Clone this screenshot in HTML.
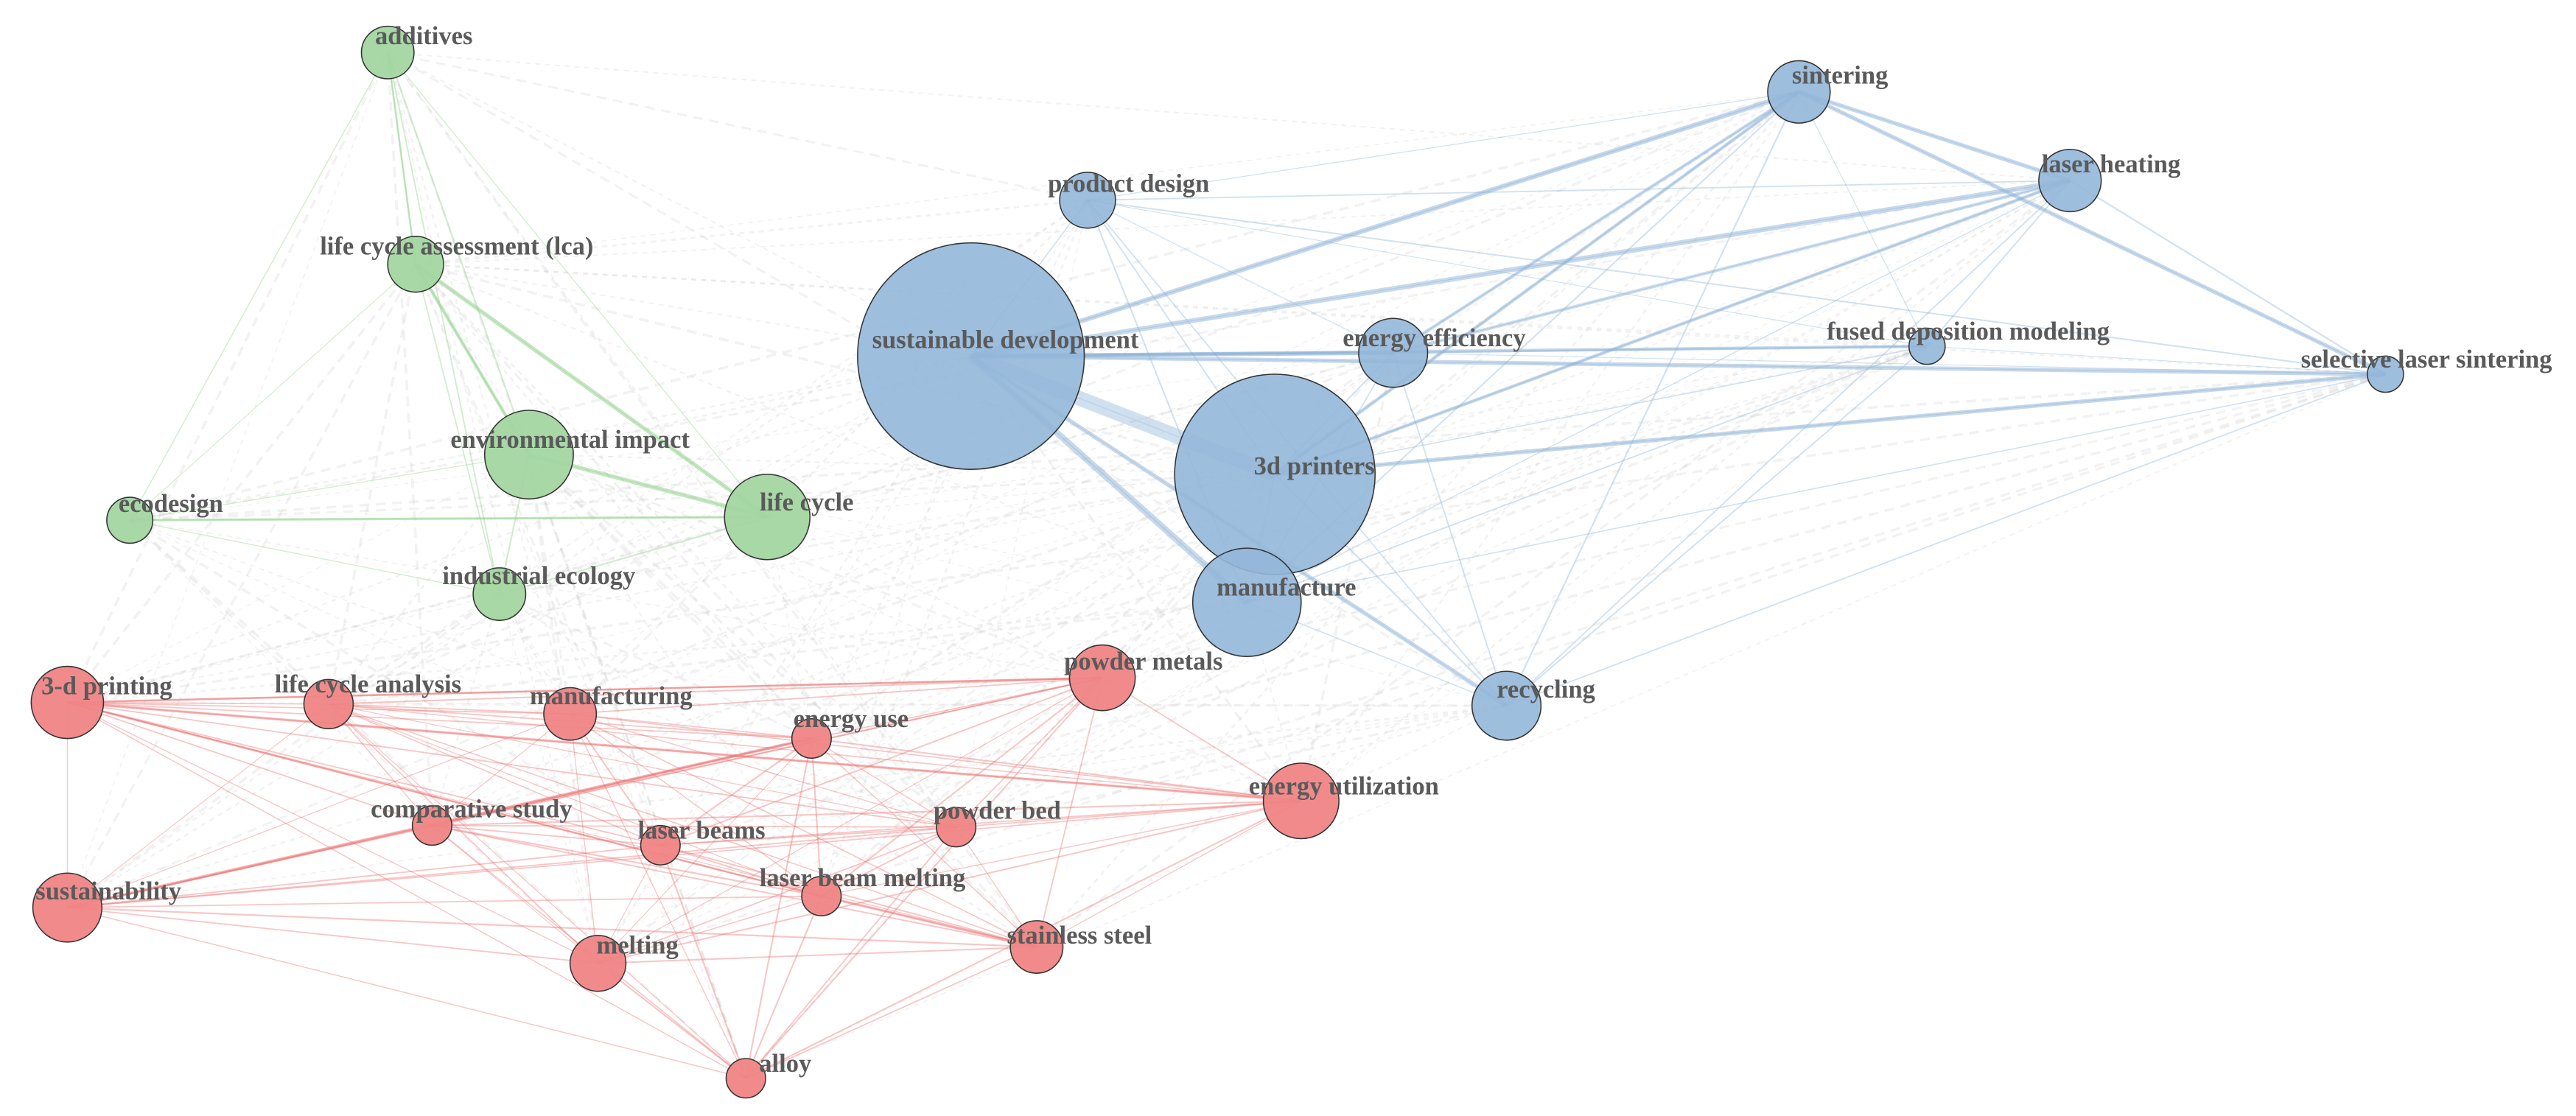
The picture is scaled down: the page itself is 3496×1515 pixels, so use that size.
<!DOCTYPE html>
<html><head><meta charset="utf-8"><style>
html,body{margin:0;padding:0;background:#fff;}
svg{display:block;}
text{font-family:"Liberation Serif",serif;font-weight:bold;font-size:15.5px;fill:#5a5a5a;text-anchor:middle;}
</style></head><body>
<svg id="g" width="3496" height="1515" viewBox="0 0 1568 680" preserveAspectRatio="none">
<g id="edges"></g>
<g id="nodes" stroke="#333" stroke-width="0.7"></g>
<g id="labels">
<text x="258" y="27">additives</text>
<text x="278" y="155">life cycle assessment (lca)</text>
<text x="347" y="273">environmental impact</text>
<text x="104" y="312">ecodesign</text>
<text x="491" y="311">life cycle</text>
<text x="328" y="356">industrial ecology</text>
<text x="612" y="212">sustainable development</text>
<text x="800" y="289">3d printers</text>
<text x="783" y="363">manufacture</text>
<text x="687" y="117">product design</text>
<text x="873" y="211">energy efficiency</text>
<text x="1120" y="51">sintering</text>
<text x="1285" y="105">laser heating</text>
<text x="1198" y="207">fused deposition modeling</text>
<text x="1477" y="224">selective laser sintering</text>
<text x="941" y="425">recycling</text>
<text x="65" y="423">3-d printing</text>
<text x="224" y="422">life cycle analysis</text>
<text x="372" y="429">manufacturing</text>
<text x="696" y="408">powder metals</text>
<text x="518" y="443">energy use</text>
<text x="818" y="484">energy utilization</text>
<text x="287" y="498">comparative study</text>
<text x="427" y="511">laser beams</text>
<text x="607" y="499">powder bed</text>
<text x="525" y="540">laser beam melting</text>
<text x="66" y="548">sustainability</text>
<text x="388" y="581">melting</text>
<text x="657" y="575">stainless steel</text>
<text x="478" y="653">alloy</text>
</g>
</svg>
<script>
var N=[
["add",236,32,16,"g"],["lca",253,161,17,"g"],["env",322,277,27,"g"],["eco",79,317,14,"g"],["lc",467,315,26,"g"],["ind",304,362,16,"g"],
["sd",591,217,69,"b"],["3dp",776,289,61,"b"],["man",759,367,33,"b"],["pd",662,122,17,"b"],["ee",848,215,21,"b"],["sin",1095,56,19,"b"],["lh",1260,110,19,"b"],["fdm",1173,211,11,"b"],["sls",1452,228,11,"b"],["rec",917,430,21,"b"],
["3dpr",41,428,22,"r"],["lca2",200,429,15,"r"],["mfg",347,435,16,"r"],["pm",671,413,20,"r"],["eu",494,450,12,"r"],["eut",792,488,23,"r"],["cs",263,503,12,"r"],["lb",402,515,12,"r"],["pb",582,504,12,"r"],["lbm",500,546,12,"r"],["sus",41,553,21,"r"],["mel",364,587,17,"r"],["ss",631,577,16,"r"],["alloy",454,657,12,"r"]];
var col={g:"#8fcf8a",b:"#8fb3d7",r:"#ee7070"};
var fill={g:"#a3d6a0",b:"#94b7d9",r:"#f08585"};
var E=document.getElementById("edges"),ns="http://www.w3.org/2000/svg";
function ln(a,b,c,w,o,d){var l=document.createElementNS(ns,"line");l.setAttribute("x1",a[1]);l.setAttribute("y1",a[2]);l.setAttribute("x2",b[1]);l.setAttribute("y2",b[2]);l.setAttribute("stroke",c);l.setAttribute("stroke-width",w);l.setAttribute("stroke-opacity",o);if(d)l.setAttribute("stroke-dasharray",d);E.appendChild(l);}
var seed=7;function rnd(){seed=(seed*16807)%2147483647;return seed/2147483647;}
for(var i=0;i<N.length;i++)for(var j=i+1;j<N.length;j++){var a=N[i],b=N[j];
 if(a[4]==b[4]){ln(a,b,col[a[4]],0.5+rnd()*0.5,0.4);}
 else if(rnd()<0.6){var w=0.5+rnd()*1.2;ln(a,b,"#ccc",w,0.25,w>1.3?"6,4":"3,3");}}
var idx={};N.forEach(function(n){idx[n[0]]=n;});
function T(a,b,c,w,o){ln(idx[a],idx[b],c,w,o);}
T("sd","3dp","#a9c6e0",9,0.55);T("sd","man","#8fb3d7",4,0.5);T("sd","sin","#8fb3d7",3,0.5);T("sd","lh","#8fb3d7",3,0.5);T("sd","ee","#6f9fcc",2.5,0.5);T("sd","sls","#8fb3d7",2.5,0.5);T("sd","fdm","#8fb3d7",2,0.5);
T("sin","lh","#8fb3d7",2.5,0.5);T("sin","sls","#8fb3d7",2.5,0.5);T("3dp","sls","#8fb3d7",2.5,0.5);T("3dp","lh","#8fb3d7",2,0.5);T("3dp","sin","#8fb3d7",2,0.5);T("sd","rec","#8fb3d7",2.5,0.5);T("ee","sin","#8fb3d7",2,0.45);T("ee","lh","#8fb3d7",2,0.45);
T("lca","lc","#8fcf8a",2.5,0.5);T("env","lc","#8fcf8a",2.5,0.5);T("eco","lc","#8fcf8a",1.5,0.5);T("lca","env","#8fcf8a",2,0.5);T("add","lca","#8fcf8a",1.2,0.5);
T("sus","eu","#ee6a6a",1.8,0.5);T("3dpr","eut","#ee6a6a",1.5,0.45);T("3dpr","pm","#ee6a6a",1.2,0.45);T("lbm","ss","#ee6a6a",1.5,0.45);T("3dpr","lbm","#ee6a6a",1.2,0.45);
var G=document.getElementById("nodes");
N.forEach(function(n){var c=document.createElementNS(ns,"circle");c.setAttribute("cx",n[1]);c.setAttribute("cy",n[2]);c.setAttribute("r",n[3]);c.setAttribute("fill",fill[n[4]]);c.setAttribute("fill-opacity",n[4]=="b"?0.9:0.95);G.appendChild(c);});
</script>
</body></html>
